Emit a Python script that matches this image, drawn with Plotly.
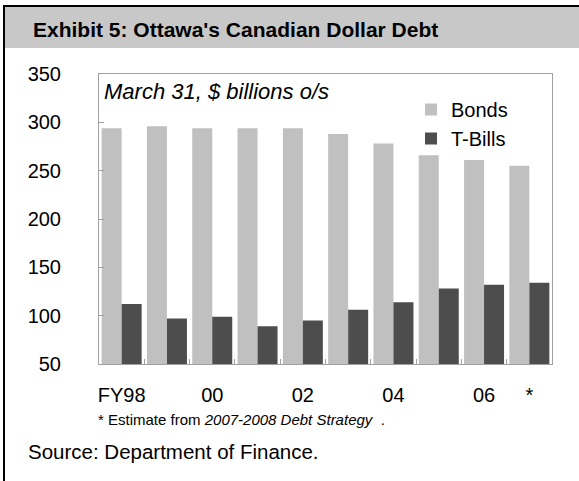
import plotly.graph_objects as go

years = ["FY98", "FY99", "FY00", "FY01", "FY02", "FY03", "FY04", "FY05", "FY06", "FY07*"]
tick_labels = ["FY98", "", "00", "", "02", "", "04", "", "06", "*"]
bonds = [294, 296, 294, 294, 294, 288, 278, 266, 261, 255]
tbills = [112, 97, 99, 89, 95, 106, 114, 128, 132, 134]

W, H = 579, 481
L, R, T, B = 99, 552, 74, 364  # plot area in pixels


def px(x):
    return (x - L) / (R - L)


def py(y):
    return (B - y) / (B - T)


FONT = "Liberation Sans, Arial, sans-serif"

fig = go.Figure()
fig.add_trace(go.Bar(name="Bonds", x=years, y=bonds, marker=dict(color="#c0c0c0", line=dict(width=0))))
fig.add_trace(go.Bar(name="T-Bills", x=years, y=tbills, marker=dict(color="#4d4d4d", line=dict(width=0))))

shapes = [
    # header band
    dict(type="rect", xref="paper", yref="paper", x0=px(5), x1=px(W + 2), y0=py(7), y1=py(48),
         fillcolor="#c8c8c8", line=dict(width=0), layer="below"),
    # frame: left and top
    dict(type="rect", xref="paper", yref="paper", x0=px(3), x1=px(5), y0=py(5), y1=py(H + 2),
         fillcolor="#000000", line=dict(width=0)),
    dict(type="rect", xref="paper", yref="paper", x0=px(3), x1=px(W + 2), y0=py(5), y1=py(7),
         fillcolor="#000000", line=dict(width=0)),
]

annotations = [
    dict(text="<b>Exhibit 5: Ottawa's Canadian Dollar Debt</b>", xref="paper", yref="paper",
         x=px(31), y=py(30), xanchor="left", yanchor="middle", showarrow=False,
         font=dict(family=FONT, size=21, color="#000000")),
    dict(text="<i>March 31, $ billions o/s</i>", xref="paper", yref="paper",
         x=px(102), y=py(91), xanchor="left", yanchor="middle", showarrow=False,
         font=dict(family=FONT, size=22, color="#000000")),
    dict(text="* Estimate from <i>2007-2008 Debt Strategy</i>  .", xref="paper", yref="paper",
         x=px(96), y=py(419), xanchor="left", yanchor="middle", showarrow=False,
         font=dict(family=FONT, size=15, color="#000000")),
    dict(text="Source: Department of Finance.", xref="paper", yref="paper",
         x=px(26), y=py(451), xanchor="left", yanchor="middle", showarrow=False,
         font=dict(family=FONT, size=20.5, color="#000000")),
]

fig.update_layout(
    width=W, height=H,
    margin=dict(l=L, r=W - R, t=T, b=H - B, pad=0),
    paper_bgcolor="#ffffff", plot_bgcolor="#ffffff",
    barmode="group", bargap=0.117, bargroupgap=0,
    font=dict(family=FONT, size=20, color="#000000"),
    showlegend=True,
    legend=dict(x=px(411), y=py(90), xanchor="left", yanchor="top",
                bgcolor="rgba(0,0,0,0)", font=dict(size=20), tracegroupgap=0,
                itemwidth=30),
    shapes=shapes, annotations=annotations,
)
fig.update_xaxes(
    type="category", tickvals=years, ticktext=tick_labels, tickangle=0,
    tickson="boundaries", ticks="inside", ticklen=5, tickcolor="#a0a0a0",
    showline=True, linecolor="#a0a0a0", linewidth=1, mirror=True,
    showgrid=False, tickfont=dict(size=20), ticklabelstandoff=13,
)
fig.update_yaxes(
    range=[50, 350], dtick=50, tick0=50,
    ticks="inside", ticklen=5, tickcolor="#a0a0a0",
    showline=True, linecolor="#a0a0a0", linewidth=1, mirror=True,
    showgrid=False, zeroline=False, tickfont=dict(size=20), ticklabelstandoff=33,
)

fig.write_html("out.html", config={"displayModeBar": False},
               post_script="document.body.style.margin='0px';")
